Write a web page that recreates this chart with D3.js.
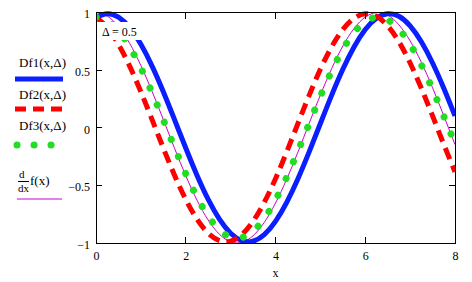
<!DOCTYPE html>
<html><head><meta charset="utf-8">
<script src="https://cdn.jsdelivr.net/npm/d3@7"></script>
<style>
html,body{margin:0;padding:0;background:#fff;}
svg{display:block;}
text{font-family:"Liberation Serif","Times New Roman",serif;font-size:12px;fill:#000;}
text.lg{font-size:13px;}
</style></head><body>
<svg id="c" width="472" height="282"></svg>
<script>
// x positions (step 0.25 from 0 to 8)
const xs = d3.range(0, 8.0001, 0.25);
// Df1(x,Δ) – blue
const df1 = [0.959, 0.990, 0.959, 0.869, 0.724, 0.535, 0.312, 0.070, -0.176, -0.412, -0.622, -0.793, -0.915, -0.980, -0.984, -0.927, -0.812, -0.647, -0.442, -0.209, 0.037, 0.281, 0.507, 0.701, 0.852, 0.950, 0.989, 0.967, 0.884, 0.746, 0.562, 0.343, 0.103];
// Df2(x,Δ) – red dashed
const df2 = [0.959, 0.869, 0.724, 0.535, 0.312, 0.070, -0.176, -0.412, -0.622, -0.793, -0.915, -0.980, -0.984, -0.927, -0.812, -0.647, -0.442, -0.209, 0.037, 0.281, 0.507, 0.701, 0.852, 0.950, 0.989, 0.967, 0.884, 0.746, 0.562, 0.343, 0.103, -0.144, -0.383];
// Df3(x,Δ) – green dots
const df3 = [0.959, 0.929, 0.842, 0.702, 0.518, 0.302, 0.068, -0.171, -0.399, -0.602, -0.768, -0.886, -0.949, -0.953, -0.898, -0.787, -0.627, -0.428, -0.202, 0.036, 0.272, 0.491, 0.680, 0.826, 0.921, 0.958, 0.936, 0.856, 0.723, 0.545, 0.332, 0.100, -0.140];
// d/dx f(x) – magenta
const dfx = [1.000, 0.969, 0.878, 0.732, 0.540, 0.315, 0.071, -0.178, -0.416, -0.628, -0.801, -0.924, -0.990, -0.994, -0.937, -0.821, -0.654, -0.446, -0.211, 0.038, 0.284, 0.512, 0.709, 0.861, 0.960, 0.999, 0.977, 0.893, 0.754, 0.568, 0.347, 0.104, -0.146];
const xTicks = [0, 2, 4, 6, 8];
const yTicks = [-1, -0.5, 0, 0.5, 1];
const yTickLabels = ["\u22121", "\u22120.5", "0", "0.5", "1"];
const legendLabels = ["Df1(x,\u0394)", "Df2(x,\u0394)", "Df3(x,\u0394)"];
const annotation = "\u0394 = 0.5";

const L = 96, R = 455, T = 12.5, B = 243;
const svg = d3.select("#c");
const x = d3.scaleLinear().domain([0, 8]).range([L, R]);
const y = d3.scaleLinear().domain([-1, 1]).range([B, T]);

svg.append("defs").append("clipPath").attr("id", "clip")
  .append("rect").attr("x", L).attr("y", T - 2).attr("width", R - L).attr("height", B - T + 2);

const line = arr => d3.line().x((d, i) => x(xs[i])).y(d => y(d)).curve(d3.curveNatural)(arr);
const g = svg.append("g").attr("clip-path", "url(#clip)");

g.append("path").attr("d", line(dfx)).attr("fill", "none").attr("stroke", "#cc00cc").attr("stroke-width", 1);
g.append("path").attr("d", line(df1)).attr("fill", "none").attr("stroke", "#0a1eff").attr("stroke-width", 5);
g.append("path").attr("d", line(df2)).attr("fill", "none").attr("stroke", "#ff0000").attr("stroke-width", 5)
  .attr("stroke-dasharray", "12 7");
g.append("path").attr("d", line(df3)).attr("fill", "none").attr("stroke", "#22dd22").attr("stroke-width", 7)
  .attr("stroke-linecap", "round").attr("stroke-dasharray", "0.1 18.4");

// Frame
svg.append("rect").attr("x", L).attr("y", T).attr("width", R - L).attr("height", B - T)
  .attr("fill", "none").attr("stroke", "#000").attr("stroke-width", 1).attr("shape-rendering", "crispEdges");

// Axes with inward ticks
const ax = svg.append("g").attr("shape-rendering", "crispEdges");
svg.append("g").attr("transform", `translate(0,${B})`)
  .call(d3.axisBottom(x).tickValues(xTicks).tickSize(0).tickPadding(8).tickFormat(d3.format("d")))
  .call(s => s.select(".domain").remove())
  .call(s => s.attr("font-family", null).attr("font-size", null));
svg.append("g").attr("transform", `translate(${L},0)`)
  .call(d3.axisLeft(y).tickValues(yTicks).tickSize(0).tickPadding(6).tickFormat((d, i) => yTickLabels[i]))
  .call(s => s.select(".domain").remove())
  .call(s => s.attr("font-family", null).attr("font-size", null))
  .call(s => s.selectAll("text").attr("dy", "0.45em"));
xTicks.slice(1, -1).forEach(v => {
  ax.append("line").attr("x1", x(v)).attr("x2", x(v)).attr("y1", B).attr("y2", B - 6).attr("stroke", "#000");
  ax.append("line").attr("x1", x(v)).attr("x2", x(v)).attr("y1", T).attr("y2", T + 6).attr("stroke", "#000");
});
yTicks.slice(1, -1).forEach(v => {
  ax.append("line").attr("x1", L).attr("x2", L + 6).attr("y1", y(v)).attr("y2", y(v)).attr("stroke", "#000");
  ax.append("line").attr("x1", R).attr("x2", R - 6).attr("y1", y(v)).attr("y2", y(v)).attr("stroke", "#000");
});

svg.append("text").attr("x", x(4)).attr("y", 277).attr("text-anchor", "middle").text("x");
// annotation with white box
svg.append("rect").attr("x", L + 1).attr("y", 22).attr("width", 52).attr("height", 18).attr("fill", "#fff");
svg.append("text").attr("x", 102).attr("y", 36).text(annotation);

// Legend
svg.append("text").attr("class", "lg").attr("x", 19).attr("y", 67).text(legendLabels[0]);
svg.append("line").attr("x1", 15).attr("x2", 63).attr("y1", 79).attr("y2", 79).attr("stroke", "#0a1eff").attr("stroke-width", 5);
svg.append("text").attr("class", "lg").attr("x", 19).attr("y", 99).text(legendLabels[1]);
svg.append("line").attr("x1", 15).attr("x2", 63).attr("y1", 109).attr("y2", 109).attr("stroke", "#ff0000").attr("stroke-width", 5).attr("stroke-dasharray", "11 7");
svg.append("text").attr("class", "lg").attr("x", 19).attr("y", 130).text(legendLabels[2]);
svg.append("line").attr("x1", 17).attr("x2", 52).attr("y1", 145).attr("y2", 145).attr("stroke", "#22dd22").attr("stroke-width", 7).attr("stroke-linecap", "round").attr("stroke-dasharray", "0.1 16.9");
svg.append("text").attr("x", 19).attr("y", 178).style("font-size", "11px").text("d");
svg.append("line").attr("x1", 18).attr("x2", 29).attr("y1", 181.5).attr("y2", 181.5).attr("stroke", "#000").attr("stroke-width", 1);
svg.append("text").attr("x", 18).attr("y", 192).style("font-size", "11px").text("dx");
svg.append("text").attr("class", "lg").attr("x", 30).attr("y", 185).text("f(x)");
svg.append("line").attr("x1", 17).attr("x2", 62).attr("y1", 199).attr("y2", 199).attr("stroke", "#cc00cc").attr("stroke-width", 1);
</script>
</body></html>
